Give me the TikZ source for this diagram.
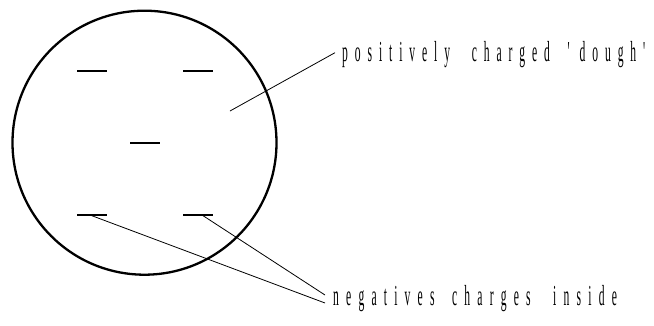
\documentclass[tikz,border=0pt]{standalone}
\usepackage{fontspec}
\newfontfamily\lblfont[FakeStretch=0.4]{Liberation Serif}
\newdimen\lskern
\lskern=7.2pt
\ExplSyntaxOn
\NewDocumentCommand\lsword{m}{
  \bool_set_false:N \l_tmpa_bool
  \tl_map_inline:nn {#1}
    { \bool_if:NT \l_tmpa_bool { \kern\lskern } ##1 \bool_set_true:N \l_tmpa_bool }
}
\ExplSyntaxOff
\tikzset{
  charge/.style={fill=black, inner sep=0pt, minimum width=30pt, minimum height=2.8pt, draw=none},
  pointer/.style={line width=0.8pt},
  lbl/.style={anchor=base west, inner sep=0pt, font=\lblfont\fontsize{29pt}{30pt}\selectfont}
}
\begin{document}
\begin{tikzpicture}[x=1pt,y=-1pt]
\useasboundingbox (0,0) rectangle (654,325);
\node[circle, draw, line width=2.3pt, minimum size=264pt, inner sep=0pt] (atom) at (144.5,142.7) {};
\node[charge] (c1) at (92,71) {};
\node[charge] (c2) at (198,71) {};
\node[charge] (c3) at (145,143) {};
\node[charge] (c4) at (92,215) {};
\node[charge] (c5) at (198,215) {};
\node[lbl] (pos) at (342,61.5) {\lskern=6.9pt\lsword{positively}\hspace{18.8pt} \lsword{charged}\hspace{14.8pt} \lsword{{\textquotesingle}dough{\textquotesingle}}};
\node[lbl] (neg) at (333,305) {\lsword{negatives}\hspace{14.6pt} \lsword{charges}\hspace{19.6pt} \lsword{inside}};
\coordinate (dough) at (230,111);
\coordinate (posend) at (335,52.7);
\coordinate (negend1) at (325,295);
\coordinate (negend2) at (325,303);
\draw[pointer] (dough) -- (posend);
\draw[pointer] ([xshift=-2pt]c4.center) -- (negend2);
\draw[pointer] ([xshift=4pt]c5.center) -- (negend1);
\end{tikzpicture}
\end{document}
